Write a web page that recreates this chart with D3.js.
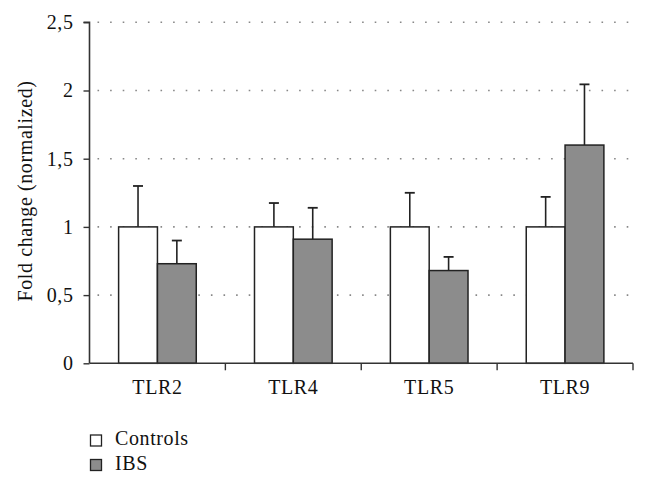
<!DOCTYPE html>
<html><head><meta charset="utf-8">
<script src="https://cdn.jsdelivr.net/npm/d3@7"></script>
<style>body{margin:0;background:#fff}text{font-family:"Liberation Serif","Times New Roman",serif;fill:#111;letter-spacing:0.6px}</style>
</head><body><svg id="c" width="648" height="486"></svg>
<script>
const categories = ["TLR2","TLR4","TLR5","TLR9"];
const series = ["Controls","IBS"];
const controls = [1, 1, 1, 1];
const controlsErr = [0.30, 0.175, 0.25, 0.22];
const ibs = [0.73, 0.91, 0.68, 1.60];
const ibsErr = [0.17, 0.23, 0.10, 0.445];
const yTicks = [0, 0.5, 1, 1.5, 2, 2.5];
const yTickLabels = ["0","0,5","1","1,5","2","2,5"];
const colors = ["#ffffff","#8c8c8c"];

const svg = d3.select("#c");
const m = {l:89.5, r:633, t:22.3, b:363.3};
const x = d3.scaleBand().domain(categories).range([m.l, m.r]).paddingInner(0).paddingOuter(0);
const x1 = d3.scaleBand().domain(series).range([0, x.bandwidth()]).paddingInner(0).paddingOuter(0.75);
const y = d3.scaleLinear().domain([0, 2.5]).range([m.b, m.t]);

// gridlines
svg.append("g").selectAll("line").data(yTicks.filter(d=>d>0)).join("line")
  .attr("x1", m.l+8).attr("x2", m.r).attr("y1", d=>y(d)).attr("y2", d=>y(d))
  .attr("stroke","#888").attr("stroke-width",1.6).attr("stroke-dasharray","1.6,11");

const data = [];
categories.forEach((c,i)=>{
  data.push({c, s:"Controls", v:controls[i], e:controlsErr[i], k:0});
  data.push({c, s:"IBS", v:ibs[i], e:ibsErr[i], k:1});
});

const g = svg.append("g");
// error bars
data.forEach(d=>{
  const cx = x(d.c) + x1(d.s) + x1.bandwidth()/2;
  g.append("line").attr("x1",cx).attr("x2",cx).attr("y1",y(d.v)).attr("y2",y(d.v+d.e))
    .attr("stroke","#222").attr("stroke-width",1.6);
  g.append("line").attr("x1",cx-5).attr("x2",cx+5).attr("y1",y(d.v+d.e)).attr("y2",y(d.v+d.e))
    .attr("stroke","#222").attr("stroke-width",1.8);
});
g.selectAll("rect").data(data).join("rect")
  .attr("x", d=>x(d.c)+x1(d.s)).attr("width", x1.bandwidth())
  .attr("y", d=>y(d.v)).attr("height", d=>y(0)-y(d.v))
  .attr("fill", d=>colors[d.k]).attr("stroke","#222").attr("stroke-width",1.5);

// y axis
const ya = d3.axisLeft(y).tickValues(yTicks).tickFormat((d,i)=>yTickLabels[i]).tickSize(6).tickPadding(10);
const yg = svg.append("g").attr("transform",`translate(${m.l},0)`).call(ya);
yg.select(".domain").attr("stroke","#333").attr("stroke-width",1.6).attr("d",`M-6,${m.t}H0V${m.b}`);
yg.selectAll(".tick line").attr("stroke","#333").attr("stroke-width",1.4);
yg.selectAll("text").style("font-size","20px").attr("fill","#111");

// x axis
const xa = d3.axisBottom(x).tickSize(0).tickPadding(17);
const xg = svg.append("g").attr("transform",`translate(0,${m.b})`).call(xa);
xg.select(".domain").attr("stroke","#333").attr("stroke-width",1.6).attr("d",`M${m.l},0H${m.r}`);
xg.selectAll("text").style("font-size","20px").attr("fill","#111");
svg.append("g").selectAll("line").data(categories.slice(1).concat(["end"])).join("line")
  .attr("x1", d=> d==="end"? m.r : x(d)).attr("x2", d=> d==="end"? m.r : x(d))
  .attr("y1", m.b).attr("y2", m.b+7).attr("stroke","#333").attr("stroke-width",1.4);

// y label
svg.append("text").attr("transform","translate(32,191) rotate(-90)").attr("text-anchor","middle")
  .style("font-size","20px").text("Fold change (normalized)");

// legend
const lg = svg.append("g");
series.forEach((s,i)=>{
  lg.append("rect").attr("x",90.5).attr("y",435+i*24.5).attr("width",11).attr("height",11)
    .attr("fill",colors[i]).attr("stroke","#222").attr("stroke-width",1.3);
  lg.append("text").attr("x",115).attr("y",445+i*24.5).style("font-size","20px").text(s);
});
</script></body></html>
